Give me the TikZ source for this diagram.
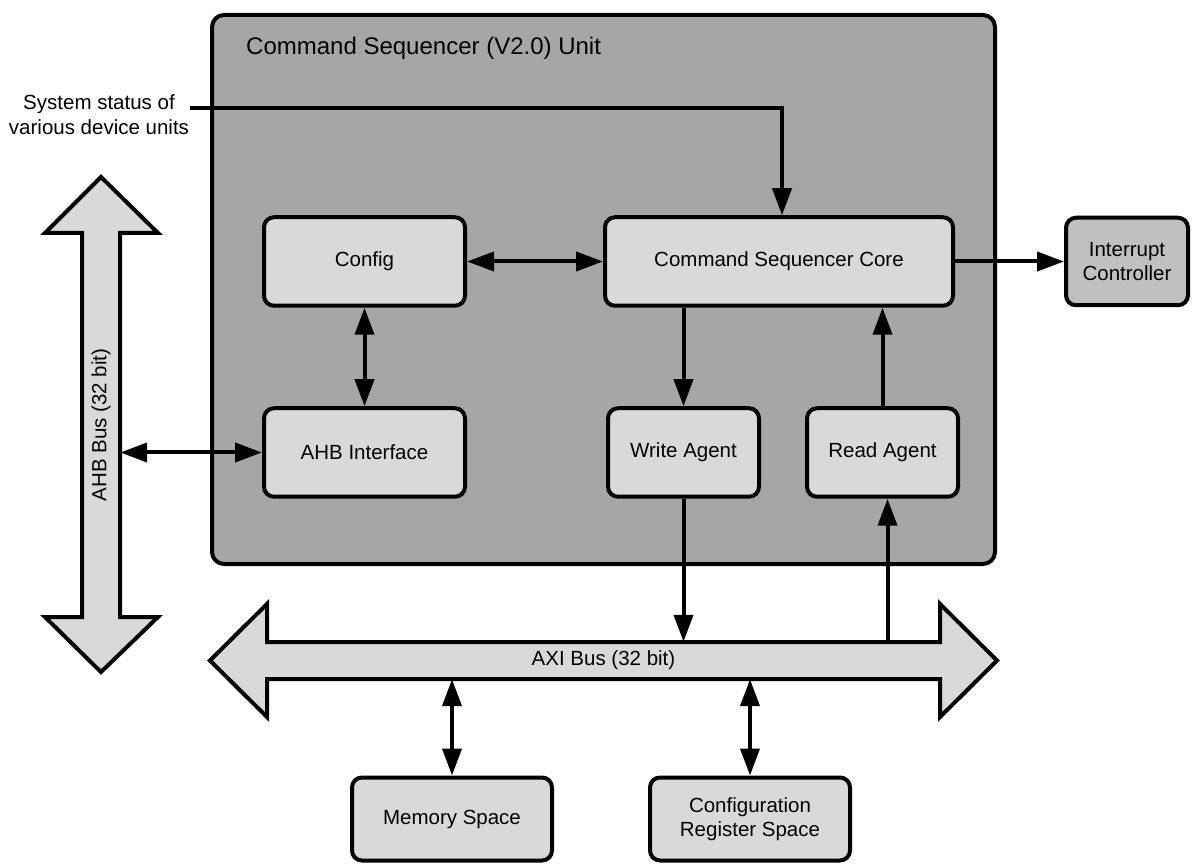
\documentclass[tikz,border=0pt]{standalone}
\usepackage{fontspec}
\setmainfont{Liberation Sans}
\usetikzlibrary{arrows.meta}
\definecolor{unitgray}{HTML}{A6A6A6}
\definecolor{boxgray}{HTML}{D9D9D9}
\definecolor{intgray}{HTML}{C0C0C0}
\begin{document}
\begin{tikzpicture}[x=1pt,y=-1pt,
  bigtip/.tip={Triangle[length=27pt,width=19pt]},
  txt/.style={font=\fontsize{20.5}{24.5}\selectfont, align=center, inner sep=0pt},
  block/.style={txt, draw, fill=boxgray, line width=4pt, rounded corners=10pt},
  conn/.style={line width=4pt, -bigtip},
  dconn/.style={line width=4pt, bigtip-bigtip},
  bus/.style={draw, fill=boxgray, line width=4pt, line join=miter}]
\useasboundingbox (0,0) rectangle (1203,866);

% command sequencer unit
\node[draw, fill=unitgray, line width=4pt, rounded corners=12pt,
      minimum width=783pt, minimum height=549pt] (unit) at (603.5,289.5) {};
\node[anchor=west, inner sep=0pt, font=\fontsize{24}{28}\selectfont] (title) at (246,48)
  {Command Sequencer (V2.0) Unit};

% blocks inside the unit
\node[block, minimum width=201pt, minimum height=88.5pt] (config) at (364.5,261.5) {Config};
\node[block, minimum width=348pt, minimum height=88.5pt] (core) at (779,261.5) {Command Sequencer Core};
\node[block, minimum width=201pt, minimum height=88.5pt] (ahbif) at (364.5,452.5) {AHB Interface};
\node[block, minimum width=151pt, minimum height=88.5pt] (write) at (683.5,452.5) {Write Agent};
\node[block, minimum width=151pt, minimum height=88.5pt] (read) at (882.5,452.5) {Read Agent};

% outside blocks
\node[block, fill=intgray, minimum width=122pt, minimum height=87.5pt] (intc) at (1127,261.5) {Interrupt\\Controller};
\node[block, minimum width=200pt, minimum height=83pt] (mem) at (452,819) {Memory Space};
\node[block, minimum width=200pt, minimum height=83pt] (cfgreg) at (750,819) {Configuration\\Register Space};

% AHB bus (vertical double arrow)
\path[bus] (101,177) -- (158,233) -- (120,233) -- (120,617) -- (158,617) -- (101,672)
  -- (45,617) -- (82,617) -- (82,233) -- (45,233) -- cycle;
\node[minimum width=38pt, minimum height=384pt, inner sep=0pt] (ahb) at (101,425) {};
\node[txt, rotate=90] (ahblabel) at (ahb.center) {AHB Bus (32 bit)};

% AXI bus (horizontal double arrow)
\path[bus] (210,660.5) -- (267,604) -- (267,642) -- (940,642) -- (940,604) -- (997,660.5)
  -- (940,717) -- (940,679) -- (267,679) -- (267,717) -- cycle;
\node[minimum width=673pt, minimum height=37pt, inner sep=0pt] (axi) at (603.5,660.5) {};
\node[txt] (axilabel) at (axi.center) {AXI Bus (32 bit)};

% status input
\node[txt] (status) at (99,114.5) {System status of\\various device units};
\coordinate (statusin) at (190,108);
\draw[conn] (statusin) -| ([xshift=3pt]core.north);

% connectors
\draw[dconn] (config.east) -- (core.west);
\draw[dconn] (config.south) -- (ahbif.north);
\draw[dconn] (ahb.east |- ahbif.west) -- (ahbif.west);
\draw[conn] (core.south -| write.north) -- (write.north);
\draw[conn] (read.north) -- (read.north |- core.south);
\draw[conn] (core.east) -- (intc.west);
\draw[conn] (write.south) -- (write.south |- axi.north);
\draw[conn] ([xshift=5pt]read.south |- axi.north) -- ([xshift=5pt]read.south);
\draw[dconn] (mem.north |- axi.south) -- (mem.north);
\draw[dconn] (cfgreg.north |- axi.south) -- (cfgreg.north);
\end{tikzpicture}
\end{document}
